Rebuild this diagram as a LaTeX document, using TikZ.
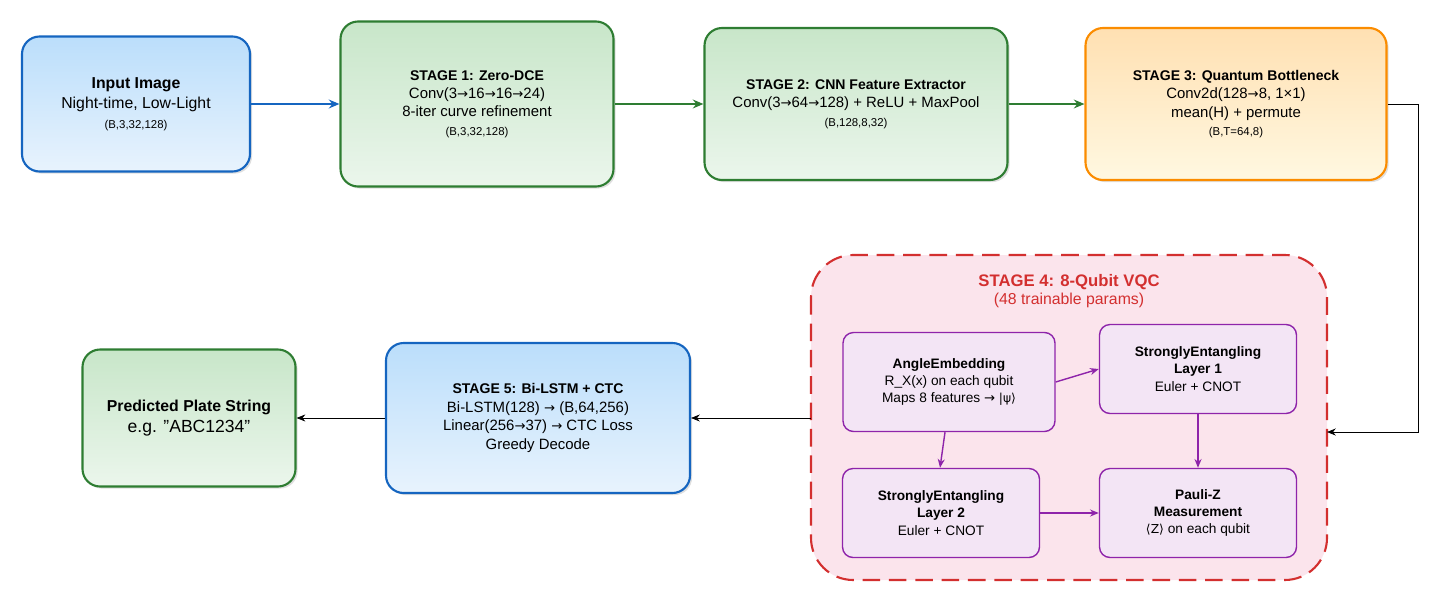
\documentclass[tikz,border=0pt]{standalone}
\usepackage{fontspec}
\setmainfont{Liberation Sans}
\newfontfamily\dv{DejaVu Sans}
\usetikzlibrary{arrows.meta,positioning,shadows}
\definecolor{stageblue}{HTML}{1565C0}
\definecolor{stagegreen}{HTML}{2E7D32}
\definecolor{stageorange}{HTML}{FB8C00}
\definecolor{stagered}{HTML}{D32F2F}
\definecolor{stagepurple}{HTML}{8E24AA}
\definecolor{bluetop}{HTML}{BBDEFB}
\definecolor{bluebot}{HTML}{E8F3FD}
\definecolor{greentop}{HTML}{C8E6C9}
\definecolor{greenbot}{HTML}{EBF6EC}
\definecolor{orangetop}{HTML}{FFE0B2}
\definecolor{orangebot}{HTML}{FFF8E1}
\definecolor{vqcfill}{HTML}{FBE4EC}
\definecolor{qfill}{HTML}{F3E5F5}
\newcommand{\ar}{{\dv\fontsize{7.5}{9}\selectfont →}}

\tikzset{
  box/.style={draw, very thick, rounded corners=10pt, align=center, inner sep=2pt,
    drop shadow={shadow xshift=1.2pt, shadow yshift=-1.2pt, opacity=0.25}},
  bluebox/.style={box, draw=stageblue, top color=bluetop, bottom color=bluebot},
  greenbox/.style={box, draw=stagegreen, top color=greentop, bottom color=greenbot},
  orangebox/.style={box, draw=stageorange, top color=orangetop, bottom color=orangebot},
  qbox/.style={draw=stagepurple, thick, fill=qfill, rounded corners=6pt, align=center,
    minimum width=197*0.02cm, minimum height=89*0.02cm, font=\fontsize{7.8}{9.8}\selectfont},
  flow/.style={-{Stealth[length=6pt,width=5pt]}, line width=1.2pt},
  link/.style={-{Stealth[length=5pt,width=4pt]}, thin},
  qlink/.style={-{Stealth[length=5pt,width=4pt]}, thick, stagepurple}
}

\begin{document}
\begin{tikzpicture}[x=0.02cm, y=-0.02cm, font=\fontsize{8.5}{10.5}\selectfont]
  \useasboundingbox (0,0) rectangle (1447,612);

  % top row
  \node[bluebox, minimum width=228*0.02cm, minimum height=135*0.02cm] (input) at (136,104)
    {{\bfseries\fontsize{9}{11}\selectfont Input Image}\\[1pt]{\fontsize{9}{11}\selectfont Night-time, Low-Light}\\[1pt]{\fontsize{6.5}{8}\selectfont (B,3,32,128)}};
  \node[greenbox, minimum width=273*0.02cm, minimum height=165*0.02cm] (zerodce) at (477,104)
    {{\bfseries\fontsize{8}{10}\selectfont STAGE 1: Zero-DCE}\\Conv(3\ar16\ar16\ar24)\\8-iter curve refinement\\{\fontsize{6.5}{8}\selectfont (B,3,32,128)}};
  \node[greenbox, minimum width=303*0.02cm, minimum height=152*0.02cm] (cnn) at (856,104)
    {{\bfseries\fontsize{8}{10}\selectfont STAGE 2: CNN Feature Extractor}\\Conv(3\ar64\ar128) + ReLU + MaxPool\\{\fontsize{6.5}{8}\selectfont (B,128,8,32)}};
  \node[orangebox, minimum width=301*0.02cm, minimum height=152*0.02cm] (bottle) at (1236,104)
    {{\bfseries\fontsize{8}{10}\selectfont STAGE 3: Quantum Bottleneck}\\Conv2d(128\ar8, 1×1)\\mean(H) + permute\\{\fontsize{6.5}{8}\selectfont (B,T=64,8)}};

  % stage 4 container
  \draw[stagered, very thick, dash pattern=on 10pt off 5pt, fill=vqcfill, rounded corners=24pt]
    (811,255) rectangle (1327,580);
  \node[text=stagered, align=center] (vqc) at (1069,291)
    {{\bfseries\fontsize{9.5}{12}\selectfont STAGE 4: 8-Qubit VQC}\\{\fontsize{9}{11}\selectfont (48 trainable params)}};
  \coordinate (vqcin) at (1327,432);
  \coordinate (vqcout) at (811,418);

  \node[qbox, minimum width=212*0.02cm, minimum height=99*0.02cm] (embed) at (949,382)
    {{\bfseries AngleEmbedding}\\R\_X(x) on each qubit\\Maps 8 features \ar{} {\dv\fontsize{7}{9}\selectfont |ψ⟩}};
  \node[qbox] (layer1) at (1198,369) {{\bfseries StronglyEntangling}\\{\bfseries Layer 1}\\Euler + CNOT};
  \node[qbox] (layer2) at (941,513) {{\bfseries StronglyEntangling}\\{\bfseries Layer 2}\\Euler + CNOT};
  \node[qbox] (pauli) at (1198,513) {{\bfseries Pauli-Z}\\{\bfseries Measurement}\\{\dv\fontsize{7}{9}\selectfont ⟨Z⟩} on each qubit};

  % bottom row
  \node[bluebox, minimum width=304*0.02cm, minimum height=150*0.02cm] (lstm) at (538,418)
    {{\bfseries\fontsize{8}{10}\selectfont STAGE 5: Bi-LSTM + CTC}\\Bi-LSTM(128) \ar{} (B,64,256)\\Linear(256\ar37) \ar{} CTC Loss\\Greedy Decode};
  \node[greenbox, minimum width=213*0.02cm, minimum height=137*0.02cm] (plate) at (189,418)
    {{\bfseries\fontsize{9}{11}\selectfont Predicted Plate String}\\[1pt]{\fontsize{10}{12}\selectfont e.g. \symbol{34}ABC1234\symbol{34}}};

  % connectors
  \draw[flow, stageblue] (input) -- (zerodce);
  \draw[flow, stagegreen] (zerodce) -- (cnn);
  \draw[flow, stagegreen] (cnn) -- (bottle);
  \draw[link] (bottle.east) -- ++(31,0) |- (vqcin);
  \draw[link] (vqcout) -- (lstm);
  \draw[link] (lstm) -- (plate);

  \draw[qlink] (embed.east) -- (layer1.west);
  \draw[qlink] (embed.south -| 945,0) -- (layer2.north -| 940,0);
  \draw[qlink] (layer1) -- (pauli);
  \draw[qlink] (layer2) -- (pauli);
\end{tikzpicture}
\end{document}
